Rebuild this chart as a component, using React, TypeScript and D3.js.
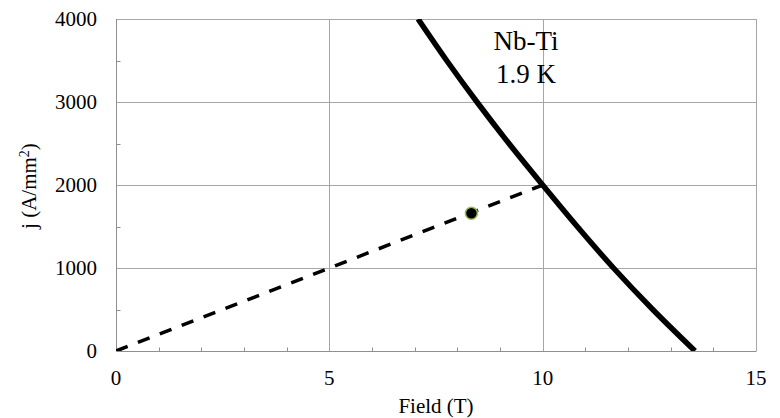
import React from "react";
import * as d3 from "d3";

const xTicks = [0, 5, 10, 15];
const yTicks = [0, 1000, 2000, 3000, 4000];
const xMinor = [1, 2, 3, 4, 6, 7, 8, 9, 11, 12, 13, 14];
const yMinor = [500, 1500, 2500, 3500];

// Nb-Ti critical current curve at 1.9 K
const curveB = [7.08, 7.75, 8.46, 9.21, 10.0, 10.81, 11.66, 12.58, 13.57];
const curveJ = [4000, 3500, 3000, 2500, 2000, 1500, 1000, 500, 0];

// load line
const loadB = [0, 10];
const loadJ = [0, 2000];

// operating point
const pointB = [8.33];
const pointJ = [1660];

const labelLines = ["Nb-Ti", "1.9 K"];

const W = 780;
const H = 418;
const left = 116;
const right = 756;
const top = 19;
const bottom = 351;

const font = "Liberation Serif";

export default function App() {
  const x = d3.scaleLinear().domain([0, 15]).range([left, right]);
  const y = d3.scaleLinear().domain([0, 4000]).range([bottom, top]);
  const px = (v: number) => Math.round(x(v)) + 0.5;
  const py = (v: number) => Math.round(y(v)) + 0.5;

  const curveData = curveB.map((b, i) => [b, curveJ[i]] as [number, number]);
  const loadData = loadB.map((b, i) => [b, loadJ[i]] as [number, number]);

  const line = d3
    .line<[number, number]>()
    .x((d) => x(d[0]))
    .y((d) => y(d[1]))
    .curve(d3.curveCatmullRom.alpha(0.5));
  const straight = d3
    .line<[number, number]>()
    .x((d) => x(d[0]))
    .y((d) => y(d[1]));

  const grid = "#a6a6a6";
  const axis = "#8f8f8f";
  const txt = { fontFamily: font, fill: "#000" } as React.CSSProperties;

  return (
    <svg
      width={W}
      height={H}
      style={{ position: "absolute", left: 0, top: 0, background: "#fff", fontFamily: font }}
    >
      <defs>
        <clipPath id="plot">
          <rect x={left} y={top} width={right - left} height={bottom - top} />
        </clipPath>
      </defs>
      {/* gridlines */}
      {yTicks.slice(1).map((t) => (
        <line key={"gy" + t} x1={left} x2={right + 0.5} y1={py(t)} y2={py(t)} stroke={grid} strokeWidth={1} />
      ))}
      {xTicks.slice(1).map((t) => (
        <line key={"gx" + t} x1={px(t)} x2={px(t)} y1={top} y2={bottom} stroke={grid} strokeWidth={1} />
      ))}
      {/* minor ticks */}
      {xMinor.map((t) => (
        <line key={"mx" + t} x1={px(t)} x2={px(t)} y1={py(0) - 4} y2={py(0)} stroke={axis} strokeWidth={1} />
      ))}
      {yMinor.map((t) => (
        <line key={"my" + t} x1={px(0)} x2={px(0) + 4} y1={py(t)} y2={py(t)} stroke={axis} strokeWidth={1} />
      ))}
      {/* axes */}
      <line x1={px(0)} x2={px(0)} y1={top} y2={py(0)} stroke={axis} strokeWidth={1} />
      <line x1={px(0)} x2={right + 0.5} y1={py(0)} y2={py(0)} stroke={axis} strokeWidth={1} />

      {/* tick labels */}
      {xTicks.map((t) => (
        <text key={"tx" + t} x={x(t)} y={385} textAnchor="middle" style={{ ...txt, fontSize: 21 }}>
          {t}
        </text>
      ))}
      {yTicks.map((t) => (
        <text key={"ty" + t} x={97} y={y(t)} dy="0.35em" textAnchor="end" style={{ ...txt, fontSize: 21 }}>
          {t}
        </text>
      ))}

      {/* axis titles */}
      <text x={436} y={413} textAnchor="middle" style={{ ...txt, fontSize: 21 }}>
        Field (T)
      </text>
      <text transform={`translate(36, 186) rotate(-90)`} textAnchor="middle" style={{ ...txt, fontSize: 21 }}>
        j (A/mm
        <tspan dy="-7" style={{ fontSize: 14 }}>2</tspan>
        <tspan dy="7">)</tspan>
      </text>

      <g clipPath="url(#plot)">
        <path
          d={straight(loadData) || ""}
          fill="none"
          stroke="#000"
          strokeWidth={3.5}
          strokeDasharray="12.5 11"
        />
        <path d={line(curveData) || ""} fill="none" stroke="#000" strokeWidth={5.5} />
      </g>

      {pointB.map((b, i) => (
        <circle key={"p" + i} cx={x(b)} cy={y(pointJ[i])} r={6} fill="#000" stroke="#9bbb59" strokeWidth={1.5} />
      ))}

      {labelLines.map((s, i) => (
        <text key={"lab" + i} x={526} y={50 + i * 33} textAnchor="middle" style={{ ...txt, fontSize: 27 }}>
          {s}
        </text>
      ))}
    </svg>
  );
}
